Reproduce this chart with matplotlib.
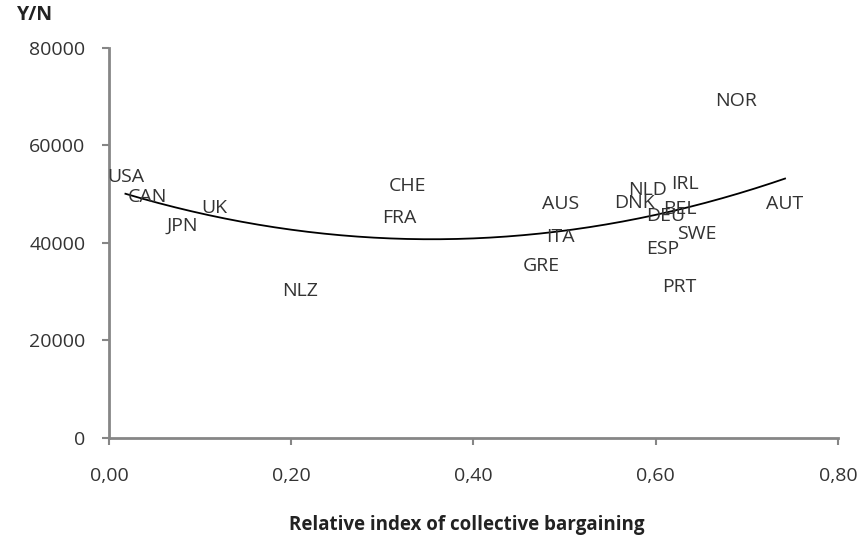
import numpy as np
import matplotlib.pyplot as plt

plt.rcParams['font.family'] = ['Open Sans', 'DejaVu Sans']

# countries: relative index of collective bargaining vs Y/N
countries = ['USA', 'CAN', 'UK', 'JPN', 'NLZ', 'CHE', 'FRA', 'AUS', 'ITA', 'GRE',
             'DNK', 'NLD', 'IRL', 'BEL', 'DEU', 'SWE', 'ESP', 'PRT', 'NOR', 'AUT']
bargaining = [0.018, 0.042, 0.116, 0.080, 0.210, 0.328, 0.319, 0.496, 0.495, 0.474,
              0.577, 0.591, 0.632, 0.627, 0.611, 0.645, 0.608, 0.626, 0.688, 0.742]
y_per_n = [53500, 49400, 47100, 43500, 30100, 51700, 45100, 48000, 41200, 35200,
           48200, 50800, 52100, 46900, 45500, 41900, 38700, 31000, 69100, 47900]

xticks = [0.0, 0.2, 0.4, 0.6, 0.8]
xticklabels = ['0,00', '0,20', '0,40', '0,60', '0,80']
yticks = [0, 20000, 40000, 60000, 80000]

fig = plt.figure(figsize=(8.62, 5.43), dpi=100)
ax = fig.add_axes([0.1265, 0.1934, 0.8455, 0.7182])

for name, x, y in zip(countries, bargaining, y_per_n):
    ax.text(x, y, name, ha='center', va='center', fontsize=14, color='#333333')

# polynomial trendline of order 2
coef = np.polyfit(bargaining, y_per_n, 2)
xs = np.linspace(min(bargaining), max(bargaining), 200)
ax.plot(xs, np.polyval(coef, xs), color='black', lw=1.3)

ax.set_xlim(0, 0.8)
ax.set_ylim(0, 80000)
ax.set_xticks(xticks)
ax.set_xticklabels(xticklabels)
ax.set_yticks(yticks)
ax.tick_params(colors='#868686', labelcolor='#333333', labelsize=14, length=5, width=1.5)
ax.tick_params(axis='x', pad=16)
ax.tick_params(axis='y', pad=12)
for s in ['top', 'right']:
    ax.spines[s].set_visible(False)
for s in ['left', 'bottom']:
    ax.spines[s].set_color('#868686')
    ax.spines[s].set_linewidth(2)

fig.text(0.041, 0.972, 'Y/N', fontsize=14, fontweight='bold', color='#222222', ha='center', va='center')
fig.text(0.541, 0.033, 'Relative index of collective bargaining', fontsize=13.5,
         fontweight='bold', color='#222222', ha='center', va='center')

fig.savefig('out.png', dpi=100)
